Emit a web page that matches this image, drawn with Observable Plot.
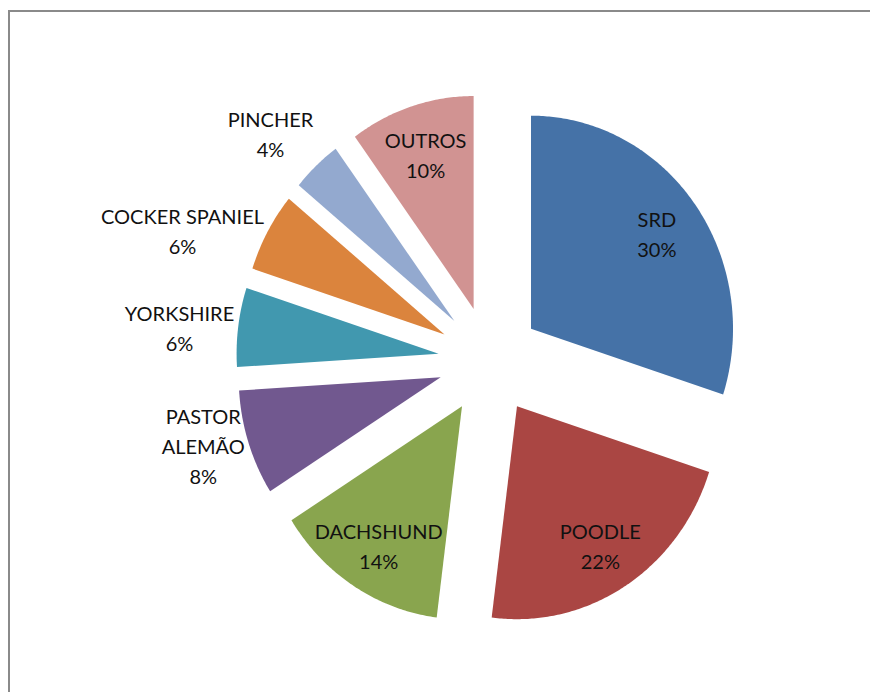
<!DOCTYPE html>
<html>
<head>
<meta charset="utf-8">
<script src="https://cdn.jsdelivr.net/npm/d3@7"></script>
<script src="https://cdn.jsdelivr.net/npm/@observablehq/plot@0.6"></script>
<style>
  html, body { margin: 0; padding: 0; background: #fff; }
  #wrap { position: relative; width: 870px; height: 692px; overflow: hidden; }
  #frame { position: absolute; left: 8px; top: 10px; right: -10px; bottom: -10px;
           border-top: 2px solid #8a8a8a; border-left: 2px solid #8a8a8a; }
  #chart { position: absolute; left: 0; top: 0; }
</style>
</head>
<body>
<div id="wrap"><div id="frame"></div><div id="chart"></div></div>
<script>
// Raças de cães (percentual)
const breeds = ["SRD", "POODLE", "DACHSHUND", "PASTOR ALEMÃO", "YORKSHIRE", "COCKER SPANIEL", "PINCHER", "OUTROS"];
const breedLabels = ["SRD", "POODLE", "DACHSHUND", "PASTOR\nALEMÃO", "YORKSHIRE", "COCKER SPANIEL", "PINCHER", "OUTROS"];
const shares = [30, 22, 14, 8, 6, 6, 4, 10];
const colors = ["#4572A7", "#AA4643", "#89A54E", "#71588F", "#4198AF", "#DB843D", "#93A9CF", "#D19392"];

// Layout
const W = 870, H = 692;
const cx = 489, cy = 360;        // pie centre, px
const kx = 202, ky = 213;        // pie radius along x / y, px
const explode = 0.254;           // slice offset, in radii
const fontFamily = "Lato, 'Open Sans', sans-serif";
const fontSize = 20, lineHeight = 1.5;

const table = breeds.map((name, i) => ({name, label: breedLabels[i], value: shares[i]}));
const arcs = d3.pie().sort(null).value(d => d.value)(table);

// Slice outlines: exploded apex followed by points along the arc
const points = [];
const labels = [];
const ctx = document.createElement("canvas").getContext("2d");
ctx.font = `${fontSize}px ${fontFamily}`;

for (const a of arcs) {
  const mid = (a.startAngle + a.endAngle) / 2;
  const ax = explode * Math.sin(mid), ay = explode * Math.cos(mid);
  points.push({name: a.data.name, x: ax, y: ay});
  const steps = Math.max(8, Math.ceil((a.endAngle - a.startAngle) / 0.01));
  for (let s = 0; s <= steps; ++s) {
    const t = a.startAngle + (a.endAngle - a.startAngle) * s / steps;
    points.push({name: a.data.name, x: ax + Math.sin(t), y: ay + Math.cos(t)});
  }
  points.push({name: a.data.name, x: ax, y: ay});

  const text = `${a.data.label}\n${a.data.value}%`;
  const sin = Math.sin(mid), cos = Math.cos(mid);
  if (a.data.value >= 10) {
    // large slices: label inside, along the bisector
    labels.push({text, x: ax + 0.77 * sin, y: ay + 0.77 * cos});
  } else {
    // small slices: label box just outside the arc
    const lines = text.split("\n");
    const w = d3.max(lines, l => ctx.measureText(l).width);
    const h = lines.length * fontSize * lineHeight;
    const sx = Math.abs(sin) >= 0.3 ? Math.sign(sin) : 0;
    const sy = Math.abs(cos) > Math.SQRT1_2 ? Math.sign(cos) : 0;
    labels.push({
      text,
      x: ax + 1.02 * sin + sx * w / 2 / kx,
      y: ay + 1.02 * cos + sy * h / 2 / ky
    });
  }
}

const chart = Plot.plot({
  width: W,
  height: H,
  margin: 0,
  style: {fontFamily, background: "transparent"},
  x: {domain: [-cx / kx, (W - cx) / kx], range: [0, W], axis: null},
  y: {domain: [(cy - H) / ky, cy / ky], range: [H, 0], axis: null},
  color: {domain: breeds, range: colors},
  marks: [
    Plot.line(points, {x: "x", y: "y", z: "name", fill: "name", stroke: "none"}),
    Plot.text(labels, {
      x: "x", y: "y", text: "text",
      fontSize, lineHeight, fontFamily,
      fill: "#111", textAnchor: "middle", lineAnchor: "middle"
    })
  ]
});
document.getElementById("chart").append(chart);
</script>
</body>
</html>
